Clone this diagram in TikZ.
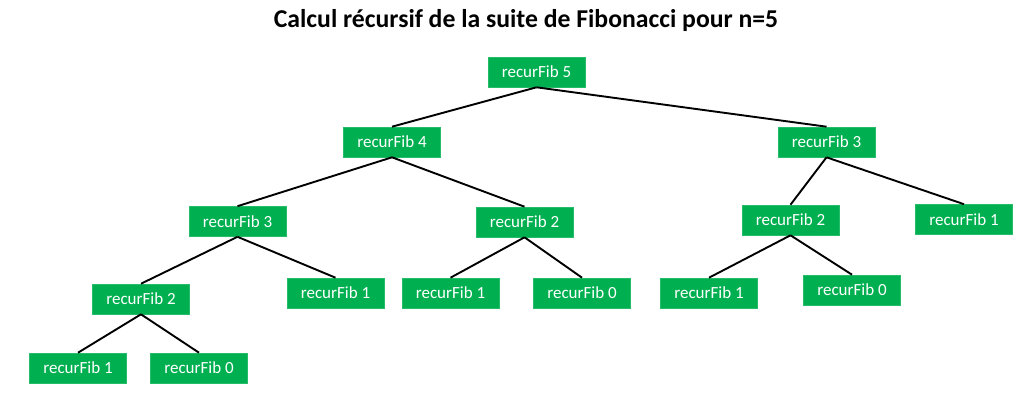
\documentclass[tikz,border=0pt]{standalone}
\usepackage{fontspec}
\setmainfont{Carlito}
\definecolor{boxgreen}{RGB}{0,176,80}
\begin{document}
\begin{tikzpicture}[x=1pt,y=-1pt,
  fibbox/.style={fill=boxgreen, draw=boxgreen!85!white, line width=0.6pt, text=white, minimum width=97pt, minimum height=30pt, inner sep=0pt, font=\fontsize{17}{19}\selectfont},
  edge/.style={draw=black, line width=1.9pt}]
\useasboundingbox (0,0) rectangle (1024,401);
\node[font=\bfseries\fontsize{25.7}{30}\selectfont] (title) at (526,21) {Calcul récursif de la suite de Fibonacci pour n=5};
\node[fibbox] (f5) at (536.5,72) {recurFib 5};
\node[fibbox] (f4) at (392,142) {recurFib 4};
\node[fibbox] (f3r) at (826.5,142) {recurFib 3};
\node[fibbox] (f3l) at (237.5,221.5) {recurFib 3};
\node[fibbox] (f2m) at (524.5,222) {recurFib 2};
\node[fibbox] (f2r) at (790.5,220) {recurFib 2};
\node[fibbox] (f1rr) at (964,219.5) {recurFib 1};
\node[fibbox] (f2l) at (141,299) {recurFib 2};
\node[fibbox] (f1a) at (335.5,293) {recurFib 1};
\node[fibbox] (f1b) at (450.5,293) {recurFib 1};
\node[fibbox] (f0b) at (582,293) {recurFib 0};
\node[fibbox] (f1c) at (709,293) {recurFib 1};
\node[fibbox] (f0c) at (852,290) {recurFib 0};
\node[fibbox] (f1d) at (78,368) {recurFib 1};
\node[fibbox] (f0d) at (199,368) {recurFib 0};
\draw[edge] (f5.south) -- (f4.north);
\draw[edge] (f5.south) -- (f3r.north);
\draw[edge] (f4.south) -- (f3l.north);
\draw[edge] (f4.south) -- (f2m.north);
\draw[edge] (f3r.south) -- (f2r.north);
\draw[edge] (f3r.south) -- (f1rr.north);
\draw[edge] (f3l.south) -- (f2l.north);
\draw[edge] (f3l.south) -- (f1a.north);
\draw[edge] (f2m.south) -- (f1b.north);
\draw[edge] (f2m.south) -- (f0b.north);
\draw[edge] (f2r.south) -- (f1c.north);
\draw[edge] (f2r.south) -- (f0c.north);
\draw[edge] (f2l.south) -- (f1d.north);
\draw[edge] (f2l.south) -- (f0d.north);
\end{tikzpicture}
\end{document}
